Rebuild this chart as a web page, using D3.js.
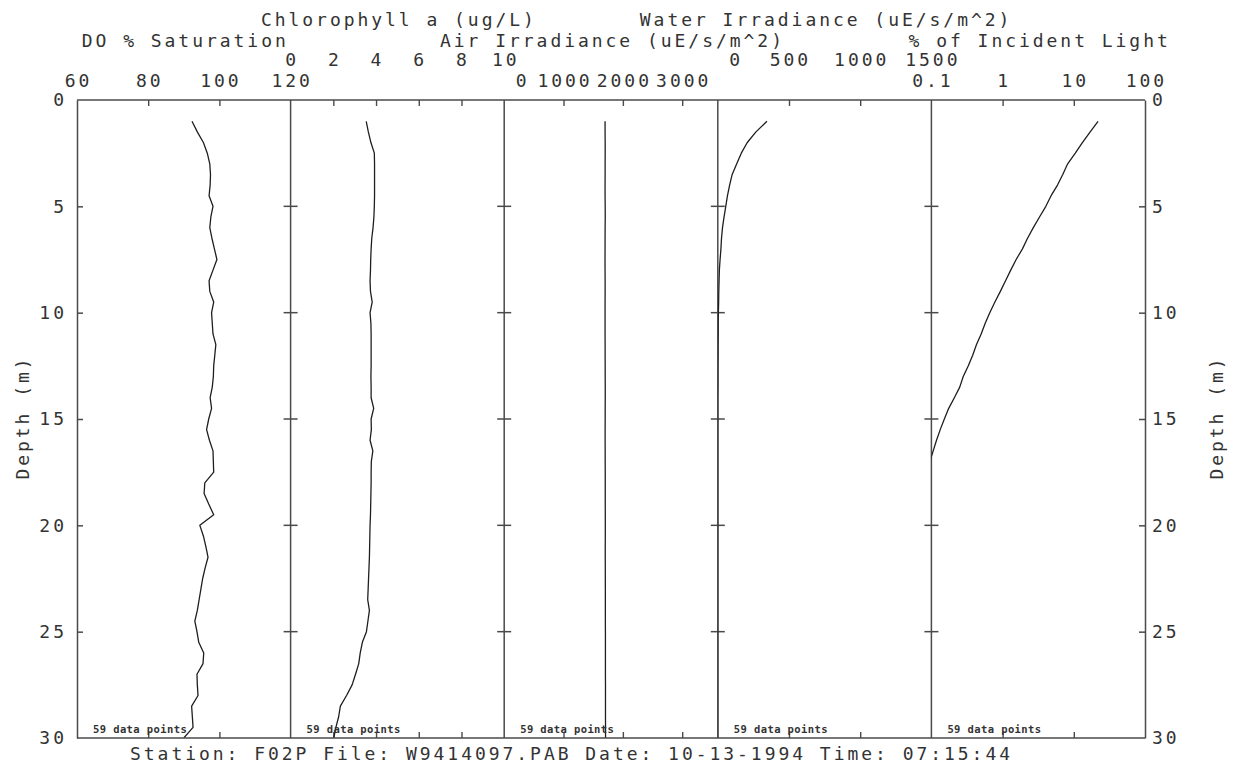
<!DOCTYPE html>
<html>
<head>
<meta charset="utf-8">
<script src="https://cdn.jsdelivr.net/npm/d3@7"></script>
<style>
  body { margin: 0; background: #fff; }
  svg text { font-family: "DejaVu Sans Mono", monospace; fill: #333; }
</style>
</head>
<body>
<svg id="chart" width="1233" height="771"></svg>
<script>
// ---- Profile data: one sample every 0.5 m, 1 m to 30 m (59 samples) ----
const depths = [
  1, 1.5, 2, 2.5, 3, 3.5, 4, 4.5, 5, 5.5,
  6, 6.5, 7, 7.5, 8, 8.5, 9, 9.5, 10, 10.5,
  11, 11.5, 12, 12.5, 13, 13.5, 14, 14.5, 15, 15.5,
  16, 16.5, 17, 17.5, 18, 18.5, 19, 19.5, 20, 20.5,
  21, 21.5, 22, 22.5, 23, 23.5, 24, 24.5, 25, 25.5,
  26, 26.5, 27, 27.5, 28, 28.5, 29, 29.5, 30
];

const doSaturation = [
  92.3, 93.8, 95.5, 96.6, 97.3, 97.5, 97.4, 97.1, 98.2, 97.6,
  97.3, 97.9, 98.6, 99.3, 98.2, 97.1, 97.3, 98.4, 97.8, 98.0,
  98.2, 99.0, 98.7, 98.4, 98.3, 98.0, 97.4, 97.8, 97.0, 96.4,
  97.2, 98.2, 98.3, 98.4, 95.9, 95.7, 97.0, 98.4, 94.5, 95.5,
  96.2, 96.8, 96.0, 95.3, 94.8, 94.3, 93.8, 93.1, 93.7, 94.2,
  95.6, 95.4, 93.7, 93.8, 94.0, 92.2, 92.4, 92.6, 90.0
];

const chlorophyll = [
  3.54, 3.64, 3.76, 3.92, 3.93, 3.93, 3.93, 3.93, 3.92, 3.90,
  3.86, 3.80, 3.77, 3.75, 3.74, 3.72, 3.74, 3.82, 3.72, 3.76,
  3.77, 3.77, 3.77, 3.77, 3.76, 3.77, 3.77, 3.89, 3.77, 3.78,
  3.72, 3.85, 3.78, 3.77, 3.77, 3.76, 3.75, 3.74, 3.72, 3.71,
  3.70, 3.69, 3.67, 3.65, 3.63, 3.61, 3.69, 3.62, 3.55, 3.36,
  3.26, 3.19, 3.04, 2.88, 2.62, 2.33, 2.25, 2.12, 2.02
];

const airIrradiance = [
  1700, 1700, 1702, 1702, 1701, 1701, 1700, 1700, 1702, 1703,
  1701, 1700, 1700, 1699, 1700, 1701, 1701, 1700, 1700, 1700,
  1700, 1701, 1701, 1702, 1702, 1703, 1703, 1702, 1702, 1701,
  1701, 1702, 1702, 1703, 1703, 1703, 1703, 1704, 1704, 1704,
  1703, 1703, 1704, 1704, 1705, 1705, 1705, 1705, 1706, 1706,
  1706, 1706, 1706, 1707, 1707, 1707, 1707, 1708, 1708
];

const waterIrradiance = [
  345, 268, 207, 165, 133, 101, 83, 68, 56, 44,
  33, 26, 22, 16, 11, 9, 7, 6, 4, 3,
  3, 2, 2, 1, 1, 1, 0, 0, 0, 0,
  0, 0, 0, 0, 0, 0, 0, 0, 0, 0,
  0, 0, 0, 0, 0, 0, 0, 0, 0, 0,
  0, 0, 0, 0, 0, 0, 0, 0, 0
];

const incidentLight = [
  21.9, 17.0, 13.2, 10.5, 8.2, 7.0, 5.9, 4.8, 4.05, 3.3,
  2.7, 2.24, 1.9, 1.55, 1.3, 1.1, 0.93, 0.78, 0.66, 0.57,
  0.50, 0.43, 0.38, 0.33, 0.28, 0.25, 0.21, 0.175, 0.152, 0.133,
  0.118, 0.106, 0.095, 0.085, 0.076, 0.068, 0.061, 0.055, 0.049, 0.044,
  0.040, 0.036, 0.032, 0.029, 0.026, 0.024, 0.022, 0.020, 0.018, 0.016,
  0.015, 0.014, 0.013, 0.012, 0.011, 0.010, 0.010, 0.010, 0.010
];

// ---- Axis tick values ----
const depthTicks = [0, 5, 10, 15, 20, 25, 30];
const doTicks = [60, 80, 100, 120];
const chlTicks = [0, 2, 4, 6, 8, 10];
const airTicks = [0, 1000, 2000, 3000];
const waterTicks = [0, 500, 1000, 1500];
const lightTicks = [0.1, 1, 10, 100];

// ---- Text ----
const titles = ["DO % Saturation", "Chlorophyll a (ug/L)", "Air Irradiance (uE/s/m^2)",
                "Water Irradiance (uE/s/m^2)", "% of Incident Light"];
const depthTitle = "Depth (m)";
const sampleNote = "59 data points";
const caption = "Station: F02P File: W9414097.PAB Date: 10-13-1994 Time: 07:15:44";

// ---- Layout ----
const plot = { left: 77, right: 1145, top: 100, bottom: 738 };
const FS = 18, LS = 2.96;           // plotter-style monospaced lettering
const titleBase = [26, 47];         // baselines of the two title rows
const tickBase = [66, 87];          // baselines of the two tick-label rows
const ink = "#1e1e1e", frame = "#4a4a4a";

const svg = d3.select("#chart");
const y = d3.scaleLinear().domain([0, 30]).range([plot.top, plot.bottom]);
const pw = (plot.right - plot.left) / 5;

const panels = [
  { title: titles[0], values: doSaturation,    domain: [60, 120],   ticks: doTicks,    log: false, row: 1, fmt: d3.format("d") },
  { title: titles[1], values: chlorophyll,     domain: [0, 10],     ticks: chlTicks,   log: false, row: 0, fmt: d3.format("d") },
  { title: titles[2], values: airIrradiance,   domain: [0, 3600],   ticks: airTicks,   log: false, row: 1, fmt: d3.format("d"), zeroShift: 17 },
  { title: titles[3], values: waterIrradiance, domain: [0, 1500],   ticks: waterTicks, log: false, row: 0, fmt: d3.format("d"), zeroShift: 17 },
  { title: titles[4], values: incidentLight,   domain: [0.1, 100],  ticks: lightTicks, log: true,  row: 1, fmt: d => String(d) }
];

function label(g, x, yy, txt, anchor) {
  // letter-spacing adds a trailing gap; compensate so anchors stay true
  let dx = 0;
  if (anchor === "middle") dx = LS / 2;
  if (anchor === "end") dx = LS;
  return g.append("text")
    .attr("x", x + dx).attr("y", yy)
    .attr("text-anchor", anchor || "start")
    .attr("font-size", FS)
    .attr("letter-spacing", LS)
    .text(txt);
}

const defs = svg.append("defs");

panels.forEach((p, i) => {
  const x0 = plot.left + i * pw, x1 = x0 + pw;
  const xs = (p.log ? d3.scaleLog() : d3.scaleLinear()).domain(p.domain).range([x0, x1]);

  defs.append("clipPath").attr("id", "clip" + i)
    .append("rect").attr("x", x0).attr("y", plot.top).attr("width", pw).attr("height", plot.bottom - plot.top);

  // title and tick labels
  label(svg, (x0 + x1) / 2, titleBase[p.row], p.title, "middle");
  p.ticks.forEach((t, k) => {
    const shift = (k === 0 && p.zeroShift) ? p.zeroShift : 0;
    label(svg, xs(t) + shift, tickBase[p.row], p.fmt(t), "middle");
  });

  // interior tick marks along top and bottom frame
  const inner = p.ticks.filter(t => t !== p.domain[0] && t !== p.domain[1]);
  svg.append("g").attr("transform", `translate(0,${plot.top})`)
    .call(d3.axisTop(xs).tickValues(inner).tickSize(-6).tickFormat(""))
    .call(g => g.select(".domain").remove())
    .call(g => g.selectAll("line").attr("stroke", frame).attr("stroke-width", 1.4));
  svg.append("g").attr("transform", `translate(0,${plot.bottom})`)
    .call(d3.axisBottom(xs).tickValues(inner).tickSize(-6).tickFormat(""))
    .call(g => g.select(".domain").remove())
    .call(g => g.selectAll("line").attr("stroke", frame).attr("stroke-width", 1.4));

  // profile trace
  const pts = depths.map((d, k) => ({ depth: d, v: p.values[k] }));
  const line = d3.line().x(d => xs(d.v)).y(d => y(d.depth));
  svg.append("path").datum(pts)
    .attr("clip-path", `url(#clip${i})`)
    .attr("fill", "none").attr("stroke", ink).attr("stroke-width", 1.3)
    .attr("stroke-linejoin", "round")
    .attr("d", line);

  // sample count note
  svg.append("text")
    .attr("x", x0 + 16).attr("y", plot.bottom - 5)
    .attr("font-size", 10.5).attr("font-weight", "bold").attr("letter-spacing", 0.4)
    .text(sampleNote);

  // divider with crossing depth ticks
  if (i < panels.length - 1) {
    svg.append("line").attr("x1", x1).attr("x2", x1).attr("y1", plot.top).attr("y2", plot.bottom)
      .attr("stroke", frame).attr("stroke-width", 1.5);
    svg.append("g").selectAll("line").data(depthTicks.filter(d => d > 0 && d < 30)).join("line")
      .attr("x1", x1 - 7).attr("x2", x1 + 7)
      .attr("y1", d => y(d)).attr("y2", d => y(d))
      .attr("stroke", frame).attr("stroke-width", 1.5);
  }
});

// top and bottom frame
[plot.top, plot.bottom].forEach(yy => {
  svg.append("line").attr("x1", plot.left).attr("x2", plot.right).attr("y1", yy).attr("y2", yy)
    .attr("stroke", frame).attr("stroke-width", 1.5);
});

// depth axes, left and right
function styleDepthAxis(g, anchor) {
  g.select(".domain").attr("stroke", frame).attr("stroke-width", 1.5);
  g.selectAll(".tick line").attr("stroke", frame).attr("stroke-width", 1.5);
  g.selectAll(".tick text")
    .attr("font-size", FS).attr("letter-spacing", LS)
    .attr("font-family", "DejaVu Sans Mono, monospace").attr("fill", "#333")
    .attr("dx", anchor === "end" ? LS : 0);
  g.selectAll(".tick").filter(d => d === 0 || d === 30).select("line").remove();
}
svg.append("g").attr("transform", `translate(${plot.left},0)`)
  .call(d3.axisLeft(y).tickValues(depthTicks).tickSize(-6).tickPadding(13).tickSizeOuter(0))
  .call(g => styleDepthAxis(g, "end"));
svg.append("g").attr("transform", `translate(${plot.right},0)`)
  .call(d3.axisRight(y).tickValues(depthTicks).tickSize(-6).tickPadding(7).tickSizeOuter(0))
  .call(g => styleDepthAxis(g, "start"));

// rotated depth titles
const midY = (plot.top + plot.bottom) / 2;
[29, 1223].forEach(x => {
  svg.append("g").attr("transform", `translate(${x},${midY}) rotate(-90)`)
    .call(g => label(g, 0, 0, depthTitle, "middle"));
});

// station / file caption
label(svg, 130, 760, caption, "start");
</script>
</body>
</html>
